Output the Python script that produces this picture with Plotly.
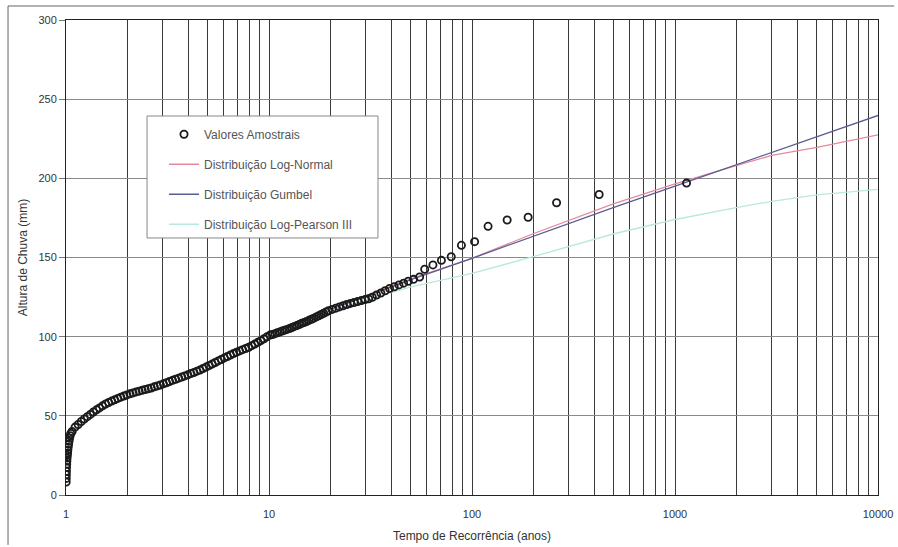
import plotly.graph_objects as go

# ---- sample values ----
sample_T = [1.002, 1.003, 1.004, 1.005, 1.006, 1.008, 1.010, 1.012, 1.015, 1.018, 1.021, 1.025,
            1.030, 1.035, 1.041, 1.048, 1.055,
            1.072, 1.109, 1.148, 1.189, 1.230, 1.274, 1.318, 1.365, 1.413, 1.462, 1.514, 1.567,
            1.622, 1.679, 1.738, 1.799, 1.862, 1.928, 1.995, 2.065, 2.138, 2.213, 2.291, 2.371,
            2.455, 2.541, 2.630, 2.723, 2.818, 2.917, 3.020, 3.126, 3.236, 3.350, 3.467, 3.589,
            3.715, 3.846, 3.981, 4.121, 4.266, 4.416, 4.571, 4.732, 4.898, 5.070, 5.248, 5.433,
            5.623, 5.821, 6.026, 6.237, 6.457, 6.683, 6.918, 7.161, 7.413, 7.674, 7.943, 8.222,
            8.511, 8.810, 9.120, 9.441, 9.772,
            10.12, 10.40, 10.69, 10.99, 11.30, 11.61, 11.94, 12.27, 12.62, 12.97, 13.34, 13.71,
            14.09, 14.49, 14.89, 15.31, 15.74, 16.18, 16.63, 17.10, 17.58, 18.07, 18.58, 19.10,
            19.63, 20.46, 21.33, 22.23, 23.17, 24.15, 25.18, 26.24, 27.35, 28.51, 29.72, 30.97,
            32.28, 33.88, 35.56, 37.33, 39.26, 41.40, 43.65, 46.03, 48.53, 51.52, 55.21,
            58.5, 64.2, 70.7, 79.0, 88.7, 103.0, 120.0, 149.0, 189.0, 261.0, 423.0, 1140.0]
sample_v = [8.2, 10.5, 12.8, 15.0, 17.3, 19.5, 21.4, 23.3, 25.0, 26.6, 28.3, 30.2,
            32.1, 34.0, 35.8, 37.4, 38.8,
            40.1, 42.9, 44.5, 46.4, 48.0, 49.5, 50.9, 52.4, 53.8, 55.0, 56.3, 57.5,
            58.4, 59.3, 60.1, 61.0, 61.8, 62.5, 63.2, 63.9, 64.5, 65.1, 65.6, 66.1,
            66.6, 67.1, 67.6, 68.3, 68.9, 69.5, 70.2, 70.9, 71.7, 72.4, 73.1, 73.8,
            74.5, 75.2, 75.9, 76.7, 77.4, 78.2, 78.9, 79.9, 80.8, 81.8, 82.7, 83.7,
            84.7, 85.6, 86.6, 87.5, 88.4, 89.3, 90.2, 91.0, 91.8, 92.5, 93.3, 94.3,
            95.3, 96.4, 97.5, 98.7, 99.9,
            101.0, 101.4, 101.9, 102.5, 103.0, 103.6, 104.1, 104.6, 105.1, 105.8, 106.5, 107.0,
            107.7, 108.4, 108.9, 109.6, 110.3, 111.0, 111.7, 112.5, 113.2, 114.0, 114.8, 115.6,
            116.3, 117.2, 118.0, 118.8, 119.5, 120.3, 121.0, 121.6, 122.2, 122.8, 123.4, 123.9,
            124.9, 126.3, 127.6, 129.0, 130.4, 131.5, 132.7, 133.8, 135.0, 136.2, 137.7,
            142.6, 145.3, 148.2, 150.5, 157.7, 160.0, 169.7, 173.7, 175.4, 184.6, 189.8, 197.0]

# ---- fitted distributions ----
dist_T = [20, 50, 100, 200, 500, 1000, 2000, 3000, 5000, 10000]
lognormal_v = [117.5, 136.5, 149.5, 165.0, 184.0, 196.5, 208.0, 214.5, 219.5, 227.5]
gumbel_v = [117.0, 136.0, 149.5, 163.5, 181.6, 195.1, 208.5, 216.4, 226.3, 239.7]
logpearson_v = [116.5, 131.5, 140.0, 150.5, 165.0, 174.0, 181.5, 185.5, 189.5, 193.0]

x_major = [1, 10, 100, 1000, 10000]
x_grid = [m * d for d in [1, 10, 100, 1000] for m in range(1, 10)] + [10000]
x_text = [str(v) if v in x_major else "" for v in x_grid]
y_ticks = [0, 50, 100, 150, 200, 250, 300]

FONT = "Liberation Sans, Arial, sans-serif"

fig = go.Figure()

fig.add_trace(go.Scatter(x=dist_T, y=lognormal_v, mode="lines", name="Distribuição Log-Normal",
                         line=dict(color="#e58a9c", width=1.3), legendrank=2, legendgroup="b"))
fig.add_trace(go.Scatter(x=dist_T, y=gumbel_v, mode="lines", name="Distribuição Gumbel",
                         line=dict(color="#5a5d92", width=1.3), legendrank=3, legendgroup="c"))
fig.add_trace(go.Scatter(x=dist_T, y=logpearson_v, mode="lines", name="Distribuição Log-Pearson III",
                         line=dict(color="#b8e8df", width=1.3), legendrank=4, legendgroup="d"))
fig.add_trace(go.Scatter(x=sample_T, y=sample_v, mode="markers", name="Valores Amostrais",
                         marker=dict(symbol="circle-open", size=7.2, color="#1a1a1a",
                                     line=dict(width=1.8, color="#1a1a1a")),
                         legendrank=1, legendgroup="a"))

fig.update_layout(
    width=898, height=547,
    margin=dict(l=66, r=20, t=20, b=52),
    paper_bgcolor="white", plot_bgcolor="white",
    font=dict(family=FONT, size=11, color="#333333"),
    showlegend=True,
    legend=dict(x=0.1207, y=0.79, xanchor="left", yanchor="top",
                bgcolor="rgba(0,0,0,0)", borderwidth=0,
                font=dict(size=12, color="#555555"), tracegroupgap=11,
                itemwidth=30),
    shapes=[
        dict(type="rect", xref="paper", yref="paper", x0=0.0998, x1=0.3842, y0=0.5411, y1=0.7979,
             fillcolor="white", line=dict(color="#888888", width=1), layer="above"),
        dict(type="line", xref="paper", yref="paper", x0=-0.0714, x1=-0.0714, y0=-0.105, y1=1.0295,
             line=dict(color="#666666", width=1)),
        dict(type="line", xref="paper", yref="paper", x0=-0.0714, x1=1.02, y0=1.0295, y1=1.0295,
             line=dict(color="#666666", width=1)),
    ],
)

fig.update_xaxes(type="log", range=[0, 4], tickvals=x_grid, ticktext=x_text,
                 showgrid=True, gridcolor="#3a3a3a", gridwidth=1,
                 showline=True, linecolor="#222222", linewidth=1, mirror=True,
                 ticks="", zeroline=False, ticklabelstandoff=9, automargin=False,
                 tickfont=dict(family=FONT, size=11, color="#333333"),
                 title=dict(text="Tempo de Recorrência (anos)", font=dict(size=12, color="#333333"),
                            standoff=12))
fig.update_yaxes(range=[0, 300], tickvals=y_ticks,
                 showgrid=True, gridcolor="#8a8a8a", gridwidth=1,
                 showline=True, linecolor="#222222", linewidth=1, mirror=True,
                 ticks="outside", ticklen=6, tickcolor="#777777", zeroline=False, automargin=False,
                 tickfont=dict(family=FONT, size=11, color="#333333"),
                 title=dict(text="Altura de Chuva (mm)", font=dict(size=12, color="#333333"),
                            standoff=8))

fig.write_html("out.html")
